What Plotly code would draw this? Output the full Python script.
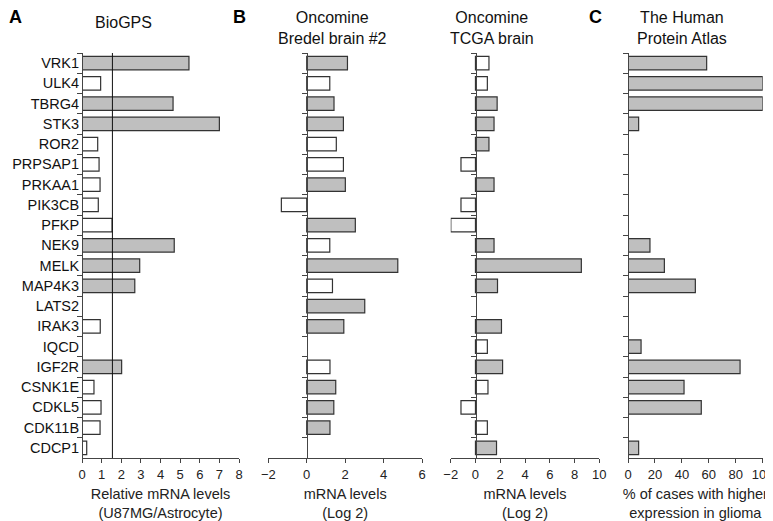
import plotly.graph_objects as go

# genes, top to bottom
genes = ["VRK1", "ULK4", "TBRG4", "STK3", "ROR2", "PRPSAP1", "PRKAA1", "PIK3CB",
         "PFKP", "NEK9", "MELK", "MAP4K3", "LATS2", "IRAK3", "IQCD", "IGF2R",
         "CSNK1E", "CDKL5", "CDK11B", "CDCP1"]

# A: BioGPS relative mRNA (U87MG/Astrocyte)
biogps = [5.45, 0.95, 4.64, 7.0, 0.8, 0.87, 0.92, 0.83, 1.53, 4.7,
          2.94, 2.69, None, 0.93, None, 2.02, 0.61, 0.97, 0.92, 0.24]
biogps_cut = 1.55

# B: Oncomine Bredel brain #2 (log2)
bredel = [2.12, 1.2, 1.42, 1.91, 1.54, 1.91, 2.01, -1.32, 2.53, 1.2,
          4.74, 1.34, 3.02, 1.93, None, 1.21, 1.51, 1.41, 1.21, None]
bredel_sig = [1, 0, 1, 1, 0, 0, 1, 0, 1, 0, 1, 0, 1, 1, 0, 0, 1, 1, 1, 0]

# B: Oncomine TCGA brain (log2)
tcga = [1.09, 0.96, 1.75, 1.5, 1.09, -1.17, 1.5, -1.17, -1.99, 1.5,
        8.55, 1.78, None, 2.1, 0.96, 2.19, 1.01, -1.17, 0.96, 1.7]
tcga_sig = [0, 0, 1, 1, 1, 0, 1, 0, 0, 1, 1, 1, 0, 1, 0, 1, 0, 0, 0, 1]

# C: Human Protein Atlas, % of cases with higher expression
hpa = [58.4, 100, 100, 7.9, None, None, None, None, None, 16.3,
       27, 50, None, None, 9.7, 83.2, 41.6, 54.4, None, 7.9]

GRAY = "#bfbfbf"
WHITE = "#ffffff"
EDGE = "#333333"
FONT = "Liberation Sans, Arial, sans-serif"

# page body has an 8px margin -> work in page pixels, shift into the figure
OFF = 8
W, H = 773 - OFF, 521 - OFF


def px(x):
    return (x - OFF) / W


def py(y):
    return 1 - (y - OFF) / H


ydom = [py(458), py(53)]

panels = [
    dict(dom=(82, 239), rng=[0, 8], dtick=1, ypos=82,
         title="Relative mRNA levels<br>(U87MG/Astrocyte)"),
    dict(dom=(268.3, 422), rng=[-2, 6], dtick=2, ypos=306.7,
         title="mRNA levels<br>(Log 2)"),
    dict(dom=(450.7, 599.3), rng=[-2, 10], dtick=2, ypos=475.5,
         title="mRNA levels<br>(Log 2)"),
    dict(dom=(628, 762.7), rng=[0, 100], dtick=20, ypos=628,
         title="% of cases with higher<br>expression in glioma"),
]

colors = [
    [GRAY if (v is not None and v > biogps_cut) else WHITE for v in biogps],
    [GRAY if s else WHITE for s in bredel_sig],
    [GRAY if s else WHITE for s in tcga_sig],
    [GRAY for _ in hpa],
]
series = [biogps, bredel, tcga, hpa]

fig = go.Figure()

for i, (vals, cols) in enumerate(zip(series, colors)):
    n = "" if i == 0 else str(i + 1)
    fig.add_trace(go.Bar(
        x=vals, y=genes, orientation="h",
        marker=dict(color=cols, line=dict(color=EDGE, width=1.2)),
        xaxis="x" + n, yaxis="y" + n, showlegend=False,
    ))

for i, p in enumerate(panels):
    n = "" if i == 0 else str(i + 1)
    fig.layout["xaxis" + n] = dict(
        domain=[px(p["dom"][0]), px(p["dom"][1])], range=p["rng"], dtick=p["dtick"],
        anchor="y" + n, showline=True, linecolor="#444", linewidth=1,
        ticks="outside", ticklen=4, tickcolor="#444", showgrid=False, zeroline=False,
        tickfont=dict(size=13, color="#222"), automargin=False,
        ticklabeloverflow="allow",
        title=dict(text=p["title"], font=dict(size=14.5, color="#222"), standoff=13),
    )
    fig.layout["yaxis" + n] = dict(
        domain=ydom, anchor="free", position=px(p["ypos"]),
        type="category", categoryorder="array", categoryarray=genes,
        range=[len(genes) - 0.5, -0.5],
        showline=True, linecolor="#444", linewidth=1,
        ticks="outside", ticklen=5, tickcolor="#444", tickson="boundaries",
        showgrid=False, zeroline=False, showticklabels=(i == 0), automargin=False,
        tickfont=dict(size=14.5, color="#111"),
    )

# threshold line in panel A
fig.add_shape(type="line", xref="x", yref="y domain", x0=biogps_cut, x1=biogps_cut,
              y0=0, y1=1, line=dict(color="#111", width=1))

fig.add_annotation(text="BioGPS", x=px(124), y=py(23), xref="paper", yref="paper",
                   showarrow=False, font=dict(size=16, color="#111"),
                   xanchor="center", yanchor="middle")

heads = [
    ("Oncomine<br>Bredel brain #2", 332),
    ("Oncomine<br>TCGA brain", 492),
    ("The Human<br>Protein Atlas", 682),
]
for txt, x in heads:
    fig.add_annotation(text=txt, x=px(x), y=1, xref="paper", yref="paper",
                       showarrow=False, font=dict(size=16, color="#111"),
                       xanchor="center", yanchor="top", borderpad=0)

for lab, x in [("A", 16), ("B", 240), ("C", 595)]:
    fig.add_annotation(text="<b>%s</b>" % lab, x=px(x), y=py(17),
                       xref="paper", yref="paper", showarrow=False,
                       font=dict(size=18, color="#000"), xanchor="center", yanchor="middle")

fig.update_layout(
    width=W, height=H, margin=dict(l=0, r=0, t=0, b=0),
    paper_bgcolor="white", plot_bgcolor="white",
    font=dict(family=FONT), bargap=0.34,
)

fig.write_html("out.html")
